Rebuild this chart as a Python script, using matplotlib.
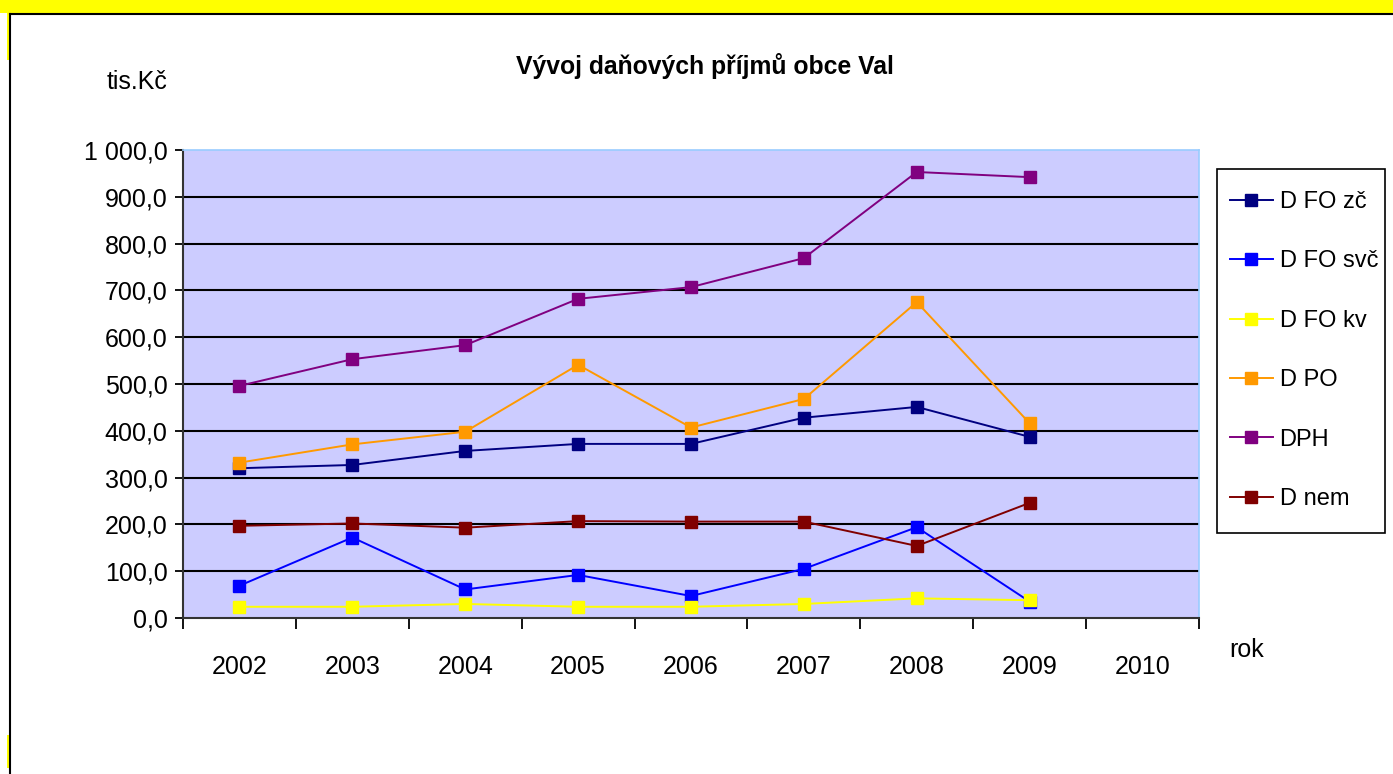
import numpy as np
import matplotlib.pyplot as plt
from matplotlib.patches import Rectangle
from matplotlib.lines import Line2D
from matplotlib.ticker import FuncFormatter

plt.rcParams['font.family'] = ['Liberation Sans', 'DejaVu Sans']

years = ['2002', '2003', '2004', '2005', '2006', '2007', '2008', '2009', '2010']

d_fo_zc = [320, 327, 357, 372, 372, 428, 451, 387]
d_fo_svc = [69, 172, 61, 92, 47, 105, 194, 35]
d_fo_kv = [24, 24, 30, 24, 24, 30, 42, 38]
d_po = [332, 371, 398, 541, 407, 468, 675, 416]
dph = [496, 553, 583, 682, 707, 769, 953, 942]
d_nem = [197, 202, 193, 207, 206, 206, 154, 246]

series = [
    ('D FO zč', d_fo_zc, '#000080'),
    ('D FO svč', d_fo_svc, '#0000ff'),
    ('D FO kv', d_fo_kv, '#ffff00'),
    ('D PO', d_po, '#ff9900'),
    ('DPH', dph, '#800080'),
    ('D nem', d_nem, '#800000'),
]

W, H = 1393, 774
fig = plt.figure(figsize=(W / 100, H / 100), dpi=100)
fig.patch.set_facecolor('white')


def px_rect(x0, y0, x1, y1, **kw):
    # rectangle given in pixel coords from the top-left corner
    r = Rectangle((x0 / W, 1 - y1 / H), (x1 - x0) / W, (y1 - y0) / H,
                  transform=fig.transFigure, **kw)
    fig.patches.append(r)
    return r


# yellow band + frame lines
px_rect(0, 0, W, 13, facecolor='#ffff00', edgecolor='none', zorder=-2)
px_rect(7, 13, 9, 60, facecolor='#ffff00', edgecolor='none', zorder=-2)
px_rect(7, 735, 9, 768, facecolor='#ffff00', edgecolor='none', zorder=-2)
fig.add_artist(Line2D([9.5 / W, 1], [1 - 13.5 / H, 1 - 13.5 / H], transform=fig.transFigure,
                      color='black', lw=1.5))
fig.add_artist(Line2D([9.5 / W, 9.5 / W], [0, 1 - 13.5 / H], transform=fig.transFigure,
                      color='black', lw=1.5))

ax = fig.add_axes([183 / W, (H - 618) / H, 1016 / W, 468 / H])
ax.set_facecolor('#ccccff')

x = np.arange(len(years))
for name, vals, col in series:
    ax.plot(x[:len(vals)], vals, color=col, lw=1.4, marker='s', markersize=8,
            markeredgecolor=col, label=name, zorder=3)

ax.set_xlim(-0.5, len(years) - 0.5)
ax.set_ylim(0, 1000)
ax.set_yticks(np.arange(0, 1001, 100))
ax.yaxis.set_major_formatter(FuncFormatter(
    lambda v, p: '{:,.1f}'.format(v).replace(',', ' ').replace('.', ',')))
ax.set_xticks(x)
ax.set_xticklabels(years)
ax.set_xticks(np.arange(-0.5, len(years), 1), minor=True)
ax.tick_params(axis='x', which='major', length=0, pad=27, labelsize=18)
ax.tick_params(axis='x', which='minor', length=8, width=1.3, direction='out')
ax.tick_params(axis='y', length=6, width=1.3, direction='out', labelsize=18, pad=5)

for v in range(100, 1000, 100):
    ax.axhline(v, color='black', lw=1.5, zorder=1)

for s in ['top', 'right']:
    ax.spines[s].set_color('#99ccff')
    ax.spines[s].set_linewidth(1.2)
for s in ['left', 'bottom']:
    ax.spines[s].set_color('#333333')
    ax.spines[s].set_linewidth(1.5)

fig.text(705 / W, 1 - 66 / H, 'Vývoj daňových příjmů obce Val', ha='center', va='center',
         fontsize=17.8, fontweight='bold')
fig.text(137 / W, 1 - 82 / H, 'tis.Kč', ha='center', va='center', fontsize=18)
fig.text(1247 / W, 1 - 650 / H, 'rok', ha='center', va='center', fontsize=18)

# legend box drawn separately (below the axes), entries placed inside
px_rect(1217, 169, 1385, 533, facecolor='white', edgecolor='black', lw=1.2, zorder=-1)
leg = ax.legend(loc='upper left', bbox_to_anchor=(1230 / W, 1 - 191 / H),
                bbox_transform=fig.transFigure, frameon=False,
                fontsize=17, labelspacing=1.585, handlelength=1.8,
                handletextpad=0.3, borderpad=0, borderaxespad=0)

fig.savefig('out.png', dpi=100, facecolor='white')
